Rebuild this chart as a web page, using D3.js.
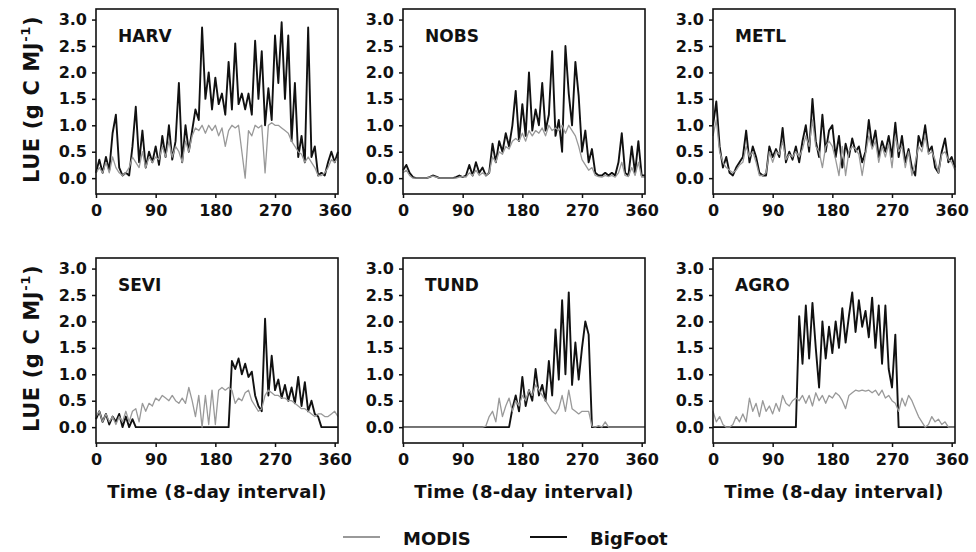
<!DOCTYPE html>
<html>
<head>
<meta charset="utf-8">
<script src="https://d3js.org/d3.v7.min.js"></script>
<style>
  body { margin: 0; background: #fff; }
  text { font-family: "DejaVu Sans", Verdana, sans-serif; fill: #111; }
</style>
</head>
<body>
<svg id="vis"></svg>
<script>
// values read every 5 days (day 0 .. 365), one row = 50 days
let sites = ["HARV", "NOBS", "METL", "SEVI", "TUND", "AGRO"];
let yTicks = [0, 0.5, 1.0, 1.5, 2.0, 2.5, 3.0];
let xTicks = [0, 90, 180, 270, 360];

let harvBigFoot = [
  0.1, 0.35, 0.1, 0.4, 0.15, 0.85, 1.2, 0.2, 0.05, 0.1,
  0.05, 0.6, 1.35, 0.3, 0.9, 0.2, 0.5, 0.3, 0.6, 0.25,
  0.8, 0.4, 1.0, 0.35, 0.7, 1.8, 0.3, 1.0, 0.5, 0.9,
  1.3, 1.1, 2.85, 1.5, 2.0, 1.3, 1.9, 1.4, 1.6, 1.2,
  2.2, 1.3, 2.55, 1.4, 1.6, 1.3, 1.6, 1.2, 2.6, 1.5,
  2.4, 1.0, 1.7, 1.1, 2.7, 1.8, 2.95, 1.5, 2.7, 0.7,
  1.8, 0.4, 0.8, 0.3, 2.85, 0.4, 0.6, 0.05, 0.1, 0.05,
  0.3, 0.5, 0.3, 0.5];
let harvModis = [
  0.1, 0.2, 0.1, 0.3, 0.1, 0.4, 0.2, 0.1, 0.05, 0.1,
  0.2, 0.4, 0.3, 0.2, 0.5, 0.2, 0.4, 0.3, 0.4, 0.35,
  0.6, 0.4, 0.7, 0.4, 0.6, 0.5, 0.3, 0.7, 0.5, 0.8,
  0.95, 0.9, 1.0, 0.85, 1.0, 0.9, 1.0, 0.8, 0.95, 0.6,
  0.9, 1.0, 0.95, 1.0, 0.5, 0.0, 0.9, 0.8, 1.0, 0.95,
  1.0, 0.1, 1.0, 1.05, 1.0, 1.0, 0.95, 0.9, 0.85, 0.7,
  0.6, 0.5, 0.45, 0.3, 0.4, 0.3, 0.2, 0.05, 0.05, 0.1,
  0.2, 0.35, 0.3, 0.4];

let nobsBigFoot = [
  0.15, 0.25, 0.1, 0.02, 0.0, 0.0, 0.0, 0.0, 0.02, 0.05,
  0.03, 0.0, 0.0, 0.0, 0.0, 0.0, 0.02, 0.05, 0.02, 0.05,
  0.25, 0.05, 0.3, 0.1, 0.2, 0.05, 0.1, 0.65, 0.3, 0.7,
  0.5, 0.85, 0.6, 1.0, 1.65, 0.7, 1.4, 0.8, 2.0, 0.9,
  1.3, 1.0, 1.8, 0.9, 1.2, 2.4, 0.8, 1.1, 0.5, 2.5,
  1.6, 1.0, 2.2, 1.55, 0.5, 0.9, 0.3, 0.55, 0.1, 0.05,
  0.05, 0.1, 0.05, 0.1, 0.05, 0.3, 0.85, 0.1, 0.05, 0.6,
  0.1, 0.7, 0.05, 0.05];
let nobsModis = [
  0.1, 0.15, 0.05, 0.0, 0.0, 0.0, 0.0, 0.0, 0.02, 0.04,
  0.02, 0.0, 0.0, 0.0, 0.0, 0.0, 0.0, 0.02, 0.03, 0.02,
  0.1, 0.05, 0.15, 0.05, 0.1, 0.05, 0.1, 0.4, 0.3, 0.5,
  0.45, 0.6, 0.55, 0.7, 0.75, 0.7, 0.85, 0.7, 0.9, 0.8,
  0.9, 0.85, 0.95, 0.8, 1.0, 0.9, 0.95, 0.9, 1.0, 0.85,
  1.0, 0.9, 0.8, 0.6, 0.35, 0.25, 0.15, 0.2, 0.05, 0.03,
  0.02, 0.05, 0.03, 0.05, 0.02, 0.1, 0.3, 0.05, 0.03, 0.2,
  0.05, 0.3, 0.02, 0.02];

let metlBigFoot = [
  1.0, 1.45, 0.6, 0.2, 0.4, 0.1, 0.05, 0.2, 0.3, 0.4,
  0.9, 0.3, 0.6, 0.4, 0.1, 0.05, 0.05, 0.6, 0.4, 0.55,
  0.4, 0.95, 0.3, 0.5, 0.35, 0.6, 0.3, 0.7, 1.0, 0.5,
  1.5, 0.7, 0.4, 1.2, 0.5, 0.9, 1.0, 0.4, 0.8, 0.2,
  0.65, 0.4, 0.75, 0.5, 0.6, 0.3, 0.5, 1.1, 0.6, 0.9,
  0.4, 0.7, 0.5, 0.8, 0.4, 1.05, 0.4, 0.8, 0.3, 0.55,
  0.2, 0.05, 0.8, 0.6, 1.0, 0.5, 0.6, 0.2, 0.1, 0.5,
  0.75, 0.3, 0.4, 0.2];
let metlModis = [
  0.8, 1.1, 0.5, 0.3, 0.2, 0.15, 0.1, 0.15, 0.25, 0.3,
  0.6, 0.4, 0.5, 0.3, 0.05, 0.05, 0.1, 0.5, 0.3, 0.5,
  0.45, 0.7, 0.35, 0.45, 0.4, 0.5, 0.4, 0.55, 0.8, 0.6,
  1.1, 0.6, 0.5, 0.2, 0.6, 0.7, 0.6, 0.35, 0.05, 0.6,
  0.05, 0.5, 0.6, 0.55, 0.45, 0.05, 0.45, 0.8, 0.55, 0.7,
  0.3, 0.6, 0.4, 0.65, 0.2, 0.8, 0.5, 0.6, 0.2, 0.5,
  0.05, 0.3, 0.6, 0.5, 0.8, 0.45, 0.5, 0.35, 0.1, 0.45,
  0.5, 0.35, 0.3, 0.15];

let seviBigFoot = [
  0.15, 0.3, 0.1, 0.25, 0.05, 0.2, 0.1, 0.25, 0.0, 0.2,
  0.0, 0.15, 0.0, 0.0, 0.0, 0.0, 0.0, 0.0, 0.0, 0.0,
  0.0, 0.0, 0.0, 0.0, 0.0, 0.0, 0.0, 0.0, 0.0, 0.0,
  0.0, 0.0, 0.0, 0.0, 0.0, 0.0, 0.0, 0.0, 0.0, 0.0,
  0.0, 1.25, 1.1, 1.3, 1.0, 1.2, 0.95, 1.05, 0.6, 0.4,
  0.3, 2.05, 0.6, 1.35, 0.7, 0.9, 0.55, 0.8, 0.5, 0.75,
  0.45, 0.95, 0.4, 0.85, 0.3, 0.5, 0.25, 0.2, 0.0, 0.0,
  0.0, 0.0, 0.0, 0.0];
let seviModis = [
  0.2, 0.3, 0.1, 0.25, 0.1, 0.2, 0.05, 0.2, 0.1, 0.3,
  0.1, 0.3, 0.35, 0.1, 0.45, 0.3, 0.45, 0.4, 0.55, 0.5,
  0.6, 0.55, 0.5, 0.6, 0.5, 0.45, 0.55, 0.45, 0.75, 0.5,
  0.2, 0.6, 0.0, 0.6, 0.05, 0.7, 0.05, 0.7, 0.75, 0.7,
  0.75, 0.7, 0.45, 0.55, 0.5, 0.65, 0.7, 0.5, 0.4, 0.3,
  0.35, 0.6, 0.7, 0.65, 0.6, 0.6, 0.55, 0.55, 0.5, 0.5,
  0.45, 0.4, 0.35, 0.35, 0.3, 0.25, 0.2, 0.25, 0.25, 0.2,
  0.2, 0.25, 0.3, 0.2];

let tundBigFoot = [
  0, 0, 0, 0, 0, 0, 0, 0, 0, 0,
  0, 0, 0, 0, 0, 0, 0, 0, 0, 0,
  0, 0, 0, 0, 0, 0, 0, 0, 0, 0,
  0, 0, 0, 0.35, 0.6, 0.3, 0.95, 0.4, 0.7, 0.5,
  1.1, 0.6, 0.8, 0.5, 1.25, 0.6, 1.85, 0.9, 2.4, 1.0,
  2.55, 0.8, 1.6, 0.9, 1.5, 2.0, 1.75, 0, 0, 0,
  0, 0, 0, 0, 0, 0, 0, 0, 0, 0,
  0, 0, 0, 0];
let tundModis = [
  0, 0, 0, 0, 0, 0, 0, 0, 0, 0,
  0, 0, 0, 0, 0, 0, 0, 0, 0, 0,
  0, 0, 0, 0, 0, 0.02, 0.2, 0.3, 0.1, 0.55,
  0.2, 0.4, 0.55, 0.3, 0.5, 0.4, 0.6, 0.5, 0.7, 0.6,
  0.8, 0.7, 0.6, 0.5, 0.4, 0.3, 0.25, 0.35, 0.6, 0.3,
  0.7, 0.35, 0.3, 0.25, 0.3, 0.3, 0.3, 0.02, 0.0, 0.03,
  0, 0.1, 0, 0, 0, 0, 0, 0, 0, 0,
  0, 0, 0, 0];

let agroBigFoot = [
  0, 0, 0, 0, 0, 0, 0, 0, 0, 0,
  0, 0, 0, 0, 0, 0, 0, 0, 0, 0,
  0, 0, 0, 0, 0, 0, 2.1, 1.2, 2.3, 1.3,
  2.35, 1.5, 0.75, 2.0, 1.3, 1.9, 1.4, 2.0, 1.5, 2.25,
  1.6, 2.1, 2.55, 1.8, 2.4, 1.9, 2.2, 1.7, 2.45, 1.5,
  2.3, 1.2, 2.3, 1.1, 0.75, 1.75, 0, 0, 0, 0,
  0, 0, 0, 0, 0, 0, 0, 0, 0, 0,
  0, 0, 0, 0];
let agroModis = [
  0.3, 0.1, 0.2, 0.05, 0.0, 0.0, 0.05, 0.2, 0.1, 0.25,
  0.1, 0.55, 0.3, 0.45, 0.2, 0.5, 0.3, 0.4, 0.25, 0.45,
  0.3, 0.6, 0.45, 0.4, 0.5, 0.55, 0.5, 0.6, 0.45, 0.6,
  0.4, 0.65, 0.5, 0.6, 0.45, 0.6, 0.55, 0.65, 0.6, 0.5,
  0.35, 0.6, 0.65, 0.7, 0.68, 0.7, 0.68, 0.7, 0.65, 0.7,
  0.6, 0.7, 0.55, 0.6, 0.5, 0.45, 0.3, 0.55, 0.4, 0.6,
  0.5, 0.35, 0.2, 0.1, 0.0, 0.05, 0.2, 0.1, 0.15, 0.05,
  0.1, 0.0, 0.0, 0.0];

let bigFoot = [harvBigFoot, nobsBigFoot, metlBigFoot, seviBigFoot, tundBigFoot, agroBigFoot];
let modis = [harvModis, nobsModis, metlModis, seviModis, tundModis, agroModis];
let days = d3.range(0, 366, 5);

let width = 976, height = 552;
let svg = d3.select("#vis").attr("width", width).attr("height", height);
svg.append("rect").attr("width", width).attr("height", height).attr("fill", "#fff");

let colLeft = [96, 403, 713], rowTop = [9, 258];
let pw = 242, ph = 185;
let black = "#111", gray = "#999";

sites.forEach((site, k) => {
    let col = k % 3, row = Math.floor(k / 3);
    let g = svg.append("g").attr("transform", `translate(${colLeft[col]},${rowTop[row]})`);
    let x = d3.scaleLinear().domain([0, 365]).range([0, pw]);
    let y = d3.scaleLinear().domain([-0.3, 3.2]).range([ph, 0]);

    let line = d3.line().x((d, i) => x(days[i])).y(d => y(d));

    g.append("path").datum(bigFoot[k])
        .attr("d", line).attr("fill", "none")
        .attr("stroke", black).attr("stroke-width", 1.9).attr("stroke-linejoin", "round");
    g.append("path").datum(modis[k])
        .attr("d", line).attr("fill", "none")
        .attr("stroke", gray).attr("stroke-width", 1.3).attr("stroke-linejoin", "round");

    g.append("rect").attr("width", pw).attr("height", ph)
        .attr("fill", "none").attr("stroke", black).attr("stroke-width", 1.6);

    let ya = g.append("g").call(d3.axisLeft(y).tickValues(yTicks).tickFormat(d3.format(".1f")).tickSize(4).tickPadding(5));
    let xa = g.append("g").attr("transform", `translate(0,${ph})`)
        .call(d3.axisBottom(x).tickValues(xTicks).tickSize(4).tickPadding(7));
    [ya, xa].forEach(a => {
        a.select(".domain").remove();
        a.selectAll("line").attr("stroke", black).attr("stroke-width", 1.5);
        a.selectAll("text").attr("font-size", 16).attr("font-weight", "bold")
            .attr("font-family", "DejaVu Sans, sans-serif").attr("fill", black);
    });

    g.append("text").attr("x", 22).attr("y", 33)
        .attr("font-size", 17).attr("font-weight", "bold").text(site);

    if (row === 1) {
        g.append("text").attr("x", pw / 2).attr("y", ph + 55)
            .attr("text-anchor", "middle").attr("font-size", 18).attr("font-weight", "bold")
            .attr("letter-spacing", 0.3)
            .text("Time (8-day interval)");
    }
    if (col === 0) {
        let t = svg.append("text")
            .attr("transform", `translate(39,${rowTop[row] + ph / 2 - 2})rotate(-90)`)
            .attr("text-anchor", "middle").attr("font-size", 21).attr("font-weight", "bold")
            .attr("letter-spacing", 0.6);
        t.append("tspan").text("LUE (g C MJ");
        t.append("tspan").attr("font-size", 13).attr("dy", -9).text("-1");
        t.append("tspan").attr("dy", 9).text(")");
    }
});

// legend
let legend = [["MODIS", gray, 343], ["BigFoot", black, 530]];
legend.forEach(([name, color, lx]) => {
    svg.append("line").attr("x1", lx).attr("x2", lx + 37).attr("y1", 537).attr("y2", 537)
        .attr("stroke", color).attr("stroke-width", 1.8);
    svg.append("text").attr("x", lx + 60).attr("y", 545)
        .attr("font-size", 18).attr("font-weight", "bold").text(name);
});
</script>
</body>
</html>
